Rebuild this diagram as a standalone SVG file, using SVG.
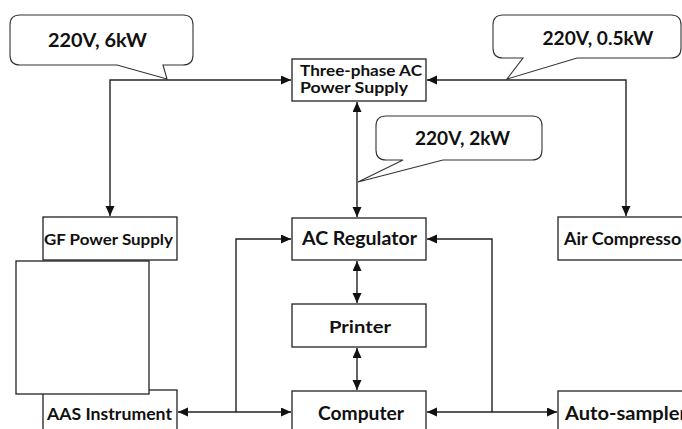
<svg xmlns="http://www.w3.org/2000/svg" width="682" height="429" viewBox="0 0 682 429">
<style>
.box{fill:#fff;stroke:#222;stroke-width:1.3}
.co{fill:#fff;stroke:#333;stroke-width:1.1}
.ln{fill:none;stroke:#222;stroke-width:1.4}
text{font-family:Lato,"Open Sans","Liberation Sans",sans-serif;font-weight:700;fill:#111}
.c{text-anchor:middle}
</style>
<defs>
<marker id="ah" markerUnits="userSpaceOnUse" markerWidth="11" markerHeight="10" refX="10" refY="4.5" orient="auto-start-reverse" viewBox="0 0 11 10">
<path d="M0,0 L10,4.5 L0,9 Z" fill="#111"/>
</marker>
</defs>
<rect width="682" height="429" fill="#fff"/>
<g id="connectors">
<path class="ln" d="M110,216 V80 H291" marker-start="url(#ah)" marker-end="url(#ah)"/>
<path class="ln" d="M626,216 V80 H427" marker-start="url(#ah)" marker-end="url(#ah)"/>
<path class="ln" d="M357,217 V102" marker-start="url(#ah)" marker-end="url(#ah)"/>
<path class="ln" d="M357,261 V303" marker-start="url(#ah)" marker-end="url(#ah)"/>
<path class="ln" d="M357,348 V390" marker-start="url(#ah)" marker-end="url(#ah)"/>
<path class="ln" d="M178,412 H291" marker-start="url(#ah)" marker-end="url(#ah)"/>
<path class="ln" d="M236,412 V239 H291" marker-end="url(#ah)"/>
<path class="ln" d="M427,412 H557" marker-start="url(#ah)" marker-end="url(#ah)"/>
<path class="ln" d="M492,412 V239 H427" marker-end="url(#ah)"/>
</g>
<g id="callout-6kw">
<path class="co" d="M20,15 H183 Q193,15 193,25 V55 Q193,65 183,65 H163 L167,79 L117,65 H20 Q10,65 10,55 V25 Q10,15 20,15 Z"/>
<text class="c" x="97.5" y="47" font-size="19.5" textLength="99" lengthAdjust="spacingAndGlyphs">220V, 6kW</text>
</g>
<g id="callout-2kw">
<path class="co" d="M386,116 H532 Q542,116 542,126 V150 Q542,160 532,160 H443 L358,182 L403,160 H386 Q376,160 376,150 V126 Q376,116 386,116 Z"/>
<text class="c" x="462.5" y="145" font-size="19.5" textLength="95" lengthAdjust="spacingAndGlyphs">220V, 2kW</text>
</g>
<g id="callout-05kw">
<path class="co" d="M503,15 H671 Q681,15 681,25 V48 Q681,58 671,58 H577 L507,79 L523,58 H503 Q493,58 493,48 V25 Q493,15 503,15 Z"/>
<text class="c" x="598" y="45" font-size="19.5" textLength="111" lengthAdjust="spacingAndGlyphs">220V, 0.5kW</text>
</g>
<g id="three-phase">
<rect class="box" x="292" y="59" width="134" height="42"/>
<text x="300" y="76" font-size="15" textLength="122" lengthAdjust="spacingAndGlyphs">Three-phase AC</text>
<text x="300" y="93" font-size="15" textLength="108" lengthAdjust="spacingAndGlyphs">Power Supply</text>
</g>
<g id="gf-power">
<rect class="box" x="43" y="217" width="134" height="43"/>
<text class="c" x="108.5" y="245" font-size="16" textLength="129" lengthAdjust="spacingAndGlyphs">GF Power Supply</text>
</g>
<g id="aas">
<rect class="box" x="43" y="390" width="134" height="50"/>
<text class="c" x="109.5" y="420" font-size="17.5" textLength="125" lengthAdjust="spacingAndGlyphs">AAS Instrument</text>
</g>
<g id="blank-box">
<rect class="box" x="16" y="261" width="133" height="133"/>
</g>
<g id="ac-regulator">
<rect class="box" x="292" y="218" width="134" height="42"/>
<text class="c" x="359.5" y="245" font-size="18" textLength="115" lengthAdjust="spacingAndGlyphs">AC Regulator</text>
</g>
<g id="printer">
<rect class="box" x="292" y="304" width="134" height="43"/>
<text class="c" x="360" y="333" font-size="17.5" textLength="62" lengthAdjust="spacingAndGlyphs">Printer</text>
</g>
<g id="computer">
<rect class="box" x="292" y="391" width="134" height="50"/>
<text class="c" x="361" y="420" font-size="18" textLength="86" lengthAdjust="spacingAndGlyphs">Computer</text>
</g>
<g id="air-compressor">
<rect class="box" x="558" y="217" width="134" height="43"/>
<text x="564" y="245" font-size="16.5" textLength="124" lengthAdjust="spacingAndGlyphs">Air Compressor</text>
</g>
<g id="auto-sampler">
<rect class="box" x="558" y="391" width="134" height="50"/>
<text x="565" y="420" font-size="18" textLength="122" lengthAdjust="spacingAndGlyphs">Auto-sampler</text>
</g>
</svg>
